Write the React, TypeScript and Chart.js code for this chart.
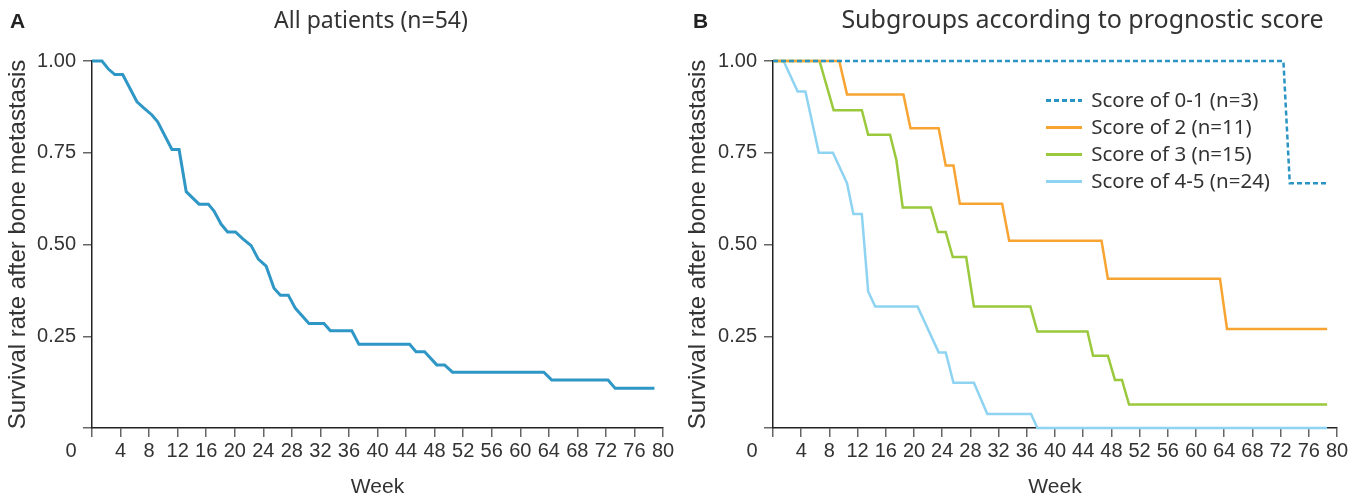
import React, { useEffect, useRef } from 'react';
import { Chart, registerables } from 'chart.js';

Chart.register(...registerables);

// ---------- Data ----------
// Panel A: all patients (n=54)
const allWeeks = [0, 1.4, 2.3, 3.2, 4.3, 6.3, 7.2, 8.4, 9.2, 11.2, 12.2, 13.2, 15.0, 16.3, 17.1, 18.1, 19.0, 20.1, 21.1, 22.3, 23.3, 24.4, 25.5, 26.4, 27.5, 28.5, 30.4, 32.5, 33.4, 36.4, 37.4, 44.5, 45.4, 46.6, 48.3, 49.4, 50.5, 63.3, 64.4, 72.3, 73.3, 78.8];
const allSurvival = [1, 1, 0.978, 0.963, 0.963, 0.889, 0.873, 0.853, 0.834, 0.759, 0.759, 0.644, 0.61, 0.61, 0.591, 0.555, 0.534, 0.534, 0.516, 0.497, 0.46, 0.441, 0.381, 0.362, 0.362, 0.326, 0.285, 0.285, 0.265, 0.265, 0.228, 0.228, 0.208, 0.208, 0.172, 0.172, 0.152, 0.152, 0.131, 0.131, 0.108, 0.108];

// Panel B: subgroups by prognostic score
const score01Weeks = [0, 72.4, 73.3, 78.6];
const score01Survival = [1, 1, 0.667, 0.667];
const score2Weeks = [0, 9.4, 10.5, 18.5, 19.5, 23.5, 24.5, 25.6, 26.5, 32.5, 33.5, 46.6, 47.5, 63.4, 64.4, 78.6];
const score2Survival = [1, 1, 0.909, 0.909, 0.817, 0.817, 0.715, 0.715, 0.611, 0.611, 0.51, 0.51, 0.407, 0.407, 0.27, 0.27];
const score3Weeks = [0, 6.6, 8.6, 12.6, 13.5, 16.6, 17.5, 18.4, 22.4, 23.4, 24.5, 25.5, 27.4, 28.5, 36.5, 37.5, 44.6, 45.4, 47.5, 48.5, 49.5, 50.5, 78.6];
const score3Survival = [1, 1, 0.866, 0.866, 0.799, 0.799, 0.73, 0.601, 0.601, 0.534, 0.534, 0.466, 0.466, 0.331, 0.331, 0.263, 0.263, 0.197, 0.197, 0.131, 0.131, 0.064, 0.064];
const score45Weeks = [0, 1.5, 3.5, 4.6, 6.5, 8.5, 10.5, 11.4, 12.6, 13.5, 14.5, 20.5, 23.5, 24.5, 25.6, 28.5, 30.4, 36.6, 37.5, 78.6];
const score45Survival = [1, 1, 0.917, 0.917, 0.75, 0.75, 0.667, 0.583, 0.583, 0.372, 0.331, 0.331, 0.206, 0.206, 0.123, 0.123, 0.038, 0.038, 0, 0];

const seriesLabels = ['Score of 0-1 (n=3)', 'Score of 2 (n=11)', 'Score of 3 (n=15)', 'Score of 4-5 (n=24)'];
const panelTitles = ['All patients (n=54)', 'Subgroups according to prognostic score'];
const panelLetters = ['A', 'B'];
const xAxisTitle = 'Week';
const yAxisTitle = 'Survival rate after bone metastasis';
const originLabel = '0';

// ---------- Styles ----------
const SANS = "'Liberation Sans', Arial, Helvetica, sans-serif";
const NOTO = "'Noto Sans', 'Open Sans', sans-serif";
const TEXT = '#333333';
const COL_A = '#2f97c6';
const COL_01 = '#2a94c4';
const COL_2 = '#f8a432';
const COL_3 = '#9bc93d';
const COL_45 = '#8fd3f2';

Chart.defaults.font.family = SANS;
Chart.defaults.color = TEXT;

const toPoints = (xs: number[], ys: number[]) => xs.map((x, i) => ({ x, y: ys[i] }));

function makeSample(color: string, dashed: boolean) {
  const c = document.createElement('canvas');
  c.width = 36;
  c.height = 3;
  const g = c.getContext('2d')!;
  g.strokeStyle = color;
  g.lineWidth = 3;
  if (dashed) g.setLineDash([5, 3]);
  g.beginPath();
  g.moveTo(0, 1.5);
  g.lineTo(36, 1.5);
  g.stroke();
  return c;
}

function decor(letter: string, letterX: number, title: string, titleX: number, titleSize: number) {
  return {
    id: 'panelDecor',
    afterDraw(chart: any) {
      const ctx = chart.ctx;
      const xs = chart.scales.x;
      ctx.save();
      ctx.fillStyle = '#222';
      ctx.textBaseline = 'alphabetic';
      ctx.textAlign = 'left';
      ctx.font = `bold 21px ${SANS}`;
      ctx.fillText(letter, letterX, 28);
      ctx.fillStyle = TEXT;
      ctx.textAlign = 'center';
      ctx.font = `${titleSize}px ${NOTO}`;
      ctx.fillText(title, titleX, 28);
      ctx.font = `20px ${SANS}`;
      ctx.textBaseline = 'middle';
      ctx.fillText(originLabel, xs.left - 21, xs.top + 23);
      ctx.restore();
    },
  };
}

function scales(yWidth: number) {
  const grid = { drawOnChartArea: false, tickLength: 9, color: '#666', lineWidth: 1.5 };
  const border = { color: '#222', width: 1.5 };
  return {
    x: {
      type: 'linear',
      min: 0,
      max: 80,
      afterFit: (s: any) => { s.height = 73; },
      ticks: {
        stepSize: 4,
        autoSkip: false,
        maxRotation: 0,
        padding: 2,
        color: TEXT,
        font: { size: 20 },
        callback: (v: number) => (v === 0 ? '' : String(v)),
      },
      grid,
      border,
      title: { display: true, text: xAxisTitle, color: TEXT, font: { size: 21 }, padding: { top: 0, bottom: 1 } },
    },
    y: {
      type: 'linear',
      min: 0,
      max: 1,
      afterFit: (s: any) => { s.width = yWidth; },
      ticks: {
        stepSize: 0.25,
        padding: 7,
        color: TEXT,
        font: { size: 20 },
        callback: (v: number) => (v === 0 ? '' : Number(v).toFixed(2)),
      },
      grid,
      border,
      title: { display: true, text: yAxisTitle, color: TEXT, font: { size: 24 }, padding: { top: 4, bottom: 0 } },
    },
  };
}

function PanelA() {
  const ref = useRef<HTMLCanvasElement>(null);
  useEffect(() => {
    const chart = new Chart(ref.current!, {
      type: 'line',
      data: {
        datasets: [
          {
            label: panelTitles[0],
            data: toPoints(allWeeks, allSurvival),
            borderColor: COL_A,
            borderWidth: 3,
            pointRadius: 0,
            tension: 0,
            fill: false,
            clip: false,
          },
        ],
      },
      options: {
        animation: false,
        responsive: false,
        devicePixelRatio: 1,
        events: [],
        layout: { padding: { left: 0, top: 61, right: 17, bottom: 0 } },
        plugins: { legend: { display: false }, tooltip: { enabled: false }, title: { display: false } },
        scales: scales(92) as any,
      },
      plugins: [decor(panelLetters[0], 10, panelTitles[0], 371, 23)],
    } as any);
    return () => chart.destroy();
  }, []);
  return <canvas ref={ref} width={680} height={501} style={{ position: 'absolute', left: 0, top: 0, width: 680, height: 501 }} />;
}

function PanelB() {
  const ref = useRef<HTMLCanvasElement>(null);
  useEffect(() => {
    const colors = [COL_01, COL_2, COL_3, COL_45];
    const samples = colors.map((c, i) => makeSample(c, i === 0));
    const series = [
      toPoints(score01Weeks, score01Survival),
      toPoints(score2Weeks, score2Survival),
      toPoints(score3Weeks, score3Survival),
      toPoints(score45Weeks, score45Survival),
    ];
    const legendLeft = 1047 - 680 - 6.5;
    const legendTop = 84.2;
    const legendPlacer = {
      id: 'legendPlacer',
      afterLayout(chart: any) {
        const lg = chart.legend;
        if (!lg) return;
        lg.left = legendLeft;
        lg.top = legendTop;
        lg.right = legendLeft + 260;
        lg.bottom = legendTop + 300;
      },
    };
    const chart = new Chart(ref.current!, {
      type: 'line',
      data: {
        datasets: series.map((d, i) => ({
          label: seriesLabels[i],
          data: d,
          borderColor: colors[i],
          backgroundColor: colors[i],
          borderWidth: 2.5,
          borderDash: i === 0 ? [5, 3] : [],
          pointRadius: 0,
          tension: 0,
          fill: false,
          clip: false,
        })),
      },
      options: {
        animation: false,
        responsive: false,
        devicePixelRatio: 1,
        events: [],
        layout: { padding: { left: 0, top: 61, right: 28, bottom: 0 } },
        plugins: {
          tooltip: { enabled: false },
          title: { display: false },
          legend: {
            display: true,
            position: 'chartArea',
            align: 'start',
            labels: {
              usePointStyle: true,
              pointStyleWidth: 34,
              padding: 6.5,
              color: TEXT,
              font: { family: NOTO, size: 20.5 },
              generateLabels: (ch: any) =>
                Chart.defaults.plugins.legend.labels.generateLabels(ch).map((item: any, i: number) => ({
                  ...item,
                  pointStyle: samples[i],
                  fontColor: TEXT,
                })),
            },
          },
        },
        scales: scales(93) as any,
      },
      plugins: [legendPlacer, decor(panelLetters[1], 13, panelTitles[1], 402.5, 25)],
    } as any);
    return () => chart.destroy();
  }, []);
  return <canvas ref={ref} width={685} height={501} style={{ position: 'absolute', left: 680, top: 0, width: 685, height: 501 }} />;
}

export default function App() {
  return (
    <div style={{ position: 'absolute', left: 0, top: 0, width: 1365, height: 501, background: '#ffffff', overflow: 'hidden' }}>
      <PanelA />
      <PanelB />
    </div>
  );
}
